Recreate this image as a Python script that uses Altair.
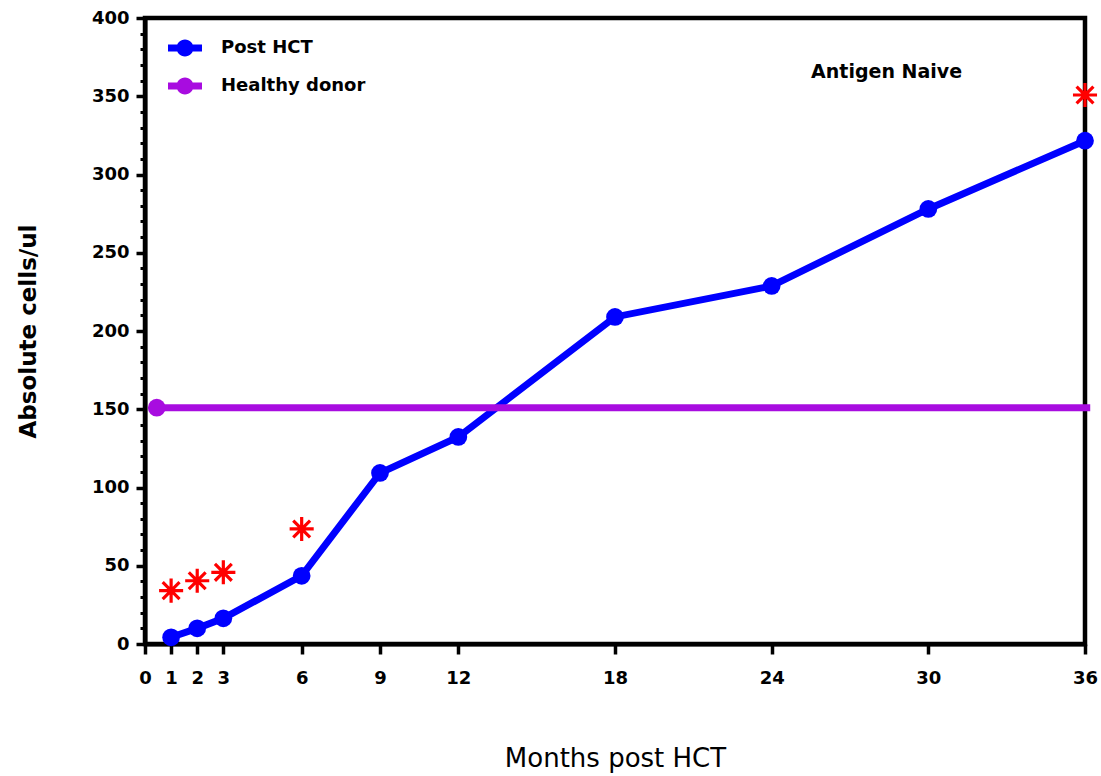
import altair as alt
import pandas as pd

months = [1, 2, 3, 6, 9, 12, 18, 24, 30, 36]
post_hct = [4.3, 10.0, 16.4, 43.6, 109.3, 132.3, 209.0, 228.8, 278.0, 321.6]
sig_months = [1, 2, 3, 6, 36]
sig_values = [34.1, 40.4, 45.8, 73.5, 350.8]
healthy_value = 151
healthy_start = 0.45
healthy_end = 36.2
x_ticks = [0, 1, 2, 3, 6, 9, 12, 18, 24, 30, 36]
y_major = list(range(0, 401, 50))
y_minor = list(range(0, 401, 10))
series_names = ["Post HCT", "Healthy donor"]
series_colors = ["#0000FF", "#A80CE0"]
panel_label = "Antigen Naive"
panel_label_pos = (28.4, 365.5)

BOLD = "DejaVu Sans"

post_df = pd.DataFrame({"month": months, "value": post_hct, "series": "Post HCT"})
sig_df = pd.DataFrame({"month": sig_months, "value": sig_values})
healthy_df = pd.DataFrame({"month": [healthy_start], "month2": [healthy_end],
                           "value": [healthy_value], "series": ["Healthy donor"]})
label_df = pd.DataFrame({"month": [panel_label_pos[0]], "value": [panel_label_pos[1]], "text": [panel_label]})

xscale = alt.Scale(domain=[0, 36], nice=False, zero=False)
yscale = alt.Scale(domain=[0, 400], nice=False)

x_enc = alt.X("month:Q", scale=xscale, axis=alt.Axis(
    values=x_ticks, tickSize=10, tickWidth=3.5, labelFontSize=18, labelFontWeight="bold",
    labelFont=BOLD, labelPadding=15, labelColor="black", labelFlush=False,
    title="Months post HCT", titleFontSize=26, titleFontWeight="normal", titleFont=BOLD,
    titlePadding=58, titleColor="black", domainWidth=4, domainColor="black"))
y_enc = alt.Y("value:Q", scale=yscale, axis=alt.Axis(
    values=y_major, tickSize=9, tickWidth=3.5, labelFontSize=18, labelFontWeight="bold",
    labelFont=BOLD, labelPadding=7, labelColor="black", labelFlush=False,
    title="Absolute cells/ul", titleFontSize=23, titleFontWeight="bold", titleFont=BOLD,
    titlePadding=51, titleColor="black", domainWidth=4, domainColor="black", orient="left"))
y_none = alt.Y("value:Q", axis=None)
x_plain = alt.X("month:Q")

legend_path = ("M-1,-0.2H1V0.2H-1Z "
               "M-0.5,0A0.5,0.5 0 1,1 0.5,0A0.5,0.5 0 1,1 -0.5,0Z")
color_enc = alt.Color("series:N", scale=alt.Scale(domain=series_names, range=series_colors),
                      legend=alt.Legend(title=None, orient="none", legendX=23, legendY=13,
                                        symbolType=legend_path, symbolSize=1156,
                                        symbolStrokeWidth=0, labelFontSize=18,
                                        labelFontWeight="bold", labelFont=BOLD,
                                        labelColor="black", labelOffset=19, rowPadding=12,
                                        padding=0))

line = alt.Chart(post_df).mark_line(color="#0000FF", strokeWidth=7).encode(x=x_enc, y=y_enc)
pts = alt.Chart(post_df).mark_point(filled=True, size=314, opacity=1, shape="circle").encode(
    x=x_plain, y=y_none, color=color_enc)
rule = alt.Chart(healthy_df).mark_rule(color="#A80CE0", strokeWidth=7).encode(
    x=x_plain, x2="month2:Q", y=y_none)
hpt = alt.Chart(healthy_df).mark_point(filled=True, size=314, opacity=1, shape="circle").encode(
    x=x_plain, y=y_none, color=alt.Color("series:N"))
ast = alt.Chart(sig_df).mark_point(
    shape="M0,-1V1M-1,0H1M-0.7,-0.7L0.7,0.7M-0.7,0.7L0.7,-0.7",
    filled=False, stroke="#FF0000", strokeWidth=3.2, size=580, opacity=1).encode(
    x=x_plain, y=y_none)
txt = alt.Chart(label_df).mark_text(font=BOLD, fontSize=19, fontWeight="bold", color="black").encode(
    x=x_plain, y=y_none, text="text:N")
minor = alt.Chart(sig_df).mark_point(opacity=0).encode(
    x=x_plain,
    y=alt.Y("value:Q", axis=alt.Axis(values=y_minor, tickSize=5, tickWidth=3, labels=False,
                                      domain=False, title=None, orient="left", tickColor="black")))

chart = alt.layer(line, rule, pts, hpt, ast, txt, minor).resolve_axis(y="independent").properties(
    width=940, height=626,
    autosize=alt.AutoSizeParams(type="none"),
    padding={"left": 145, "top": 18, "right": 16, "bottom": 132},
    background="white",
).configure_view(stroke="black", strokeWidth=4.5).configure_axis(grid=False, tickColor="black")

chart.save("out.html", embed_options={"renderer": "svg", "actions": False})
